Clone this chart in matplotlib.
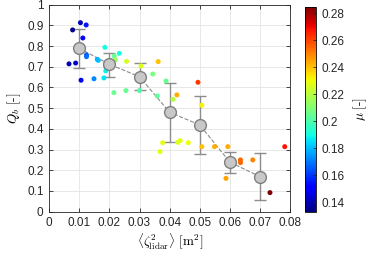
import numpy as np
import matplotlib
matplotlib.use('Agg')
import matplotlib.pyplot as plt

plt.rcParams['font.family'] = ['Liberation Sans', 'DejaVu Sans']
plt.rcParams['mathtext.fontset'] = 'cm'

# individual samples: <zeta^2_lidar>, Q_b, mu
zeta = [0.0104, 0.0123, 0.0078, 0.0112, 0.0124, 0.0124, 0.0066, 0.0088, 0.0106,
        0.0160, 0.0163, 0.0149, 0.0185, 0.0182, 0.0188, 0.0188, 0.0233, 0.0216,
        0.0220, 0.0204, 0.0215, 0.0255,
        0.0257, 0.0305, 0.0300, 0.0344, 0.0362, 0.0388, 0.0359,
        0.0411, 0.0424, 0.0368, 0.0377, 0.0427, 0.0435, 0.0462,
        0.0494, 0.0507, 0.0507, 0.0549,
        0.0593, 0.0635, 0.0635, 0.0676, 0.0587, 0.0615,
        0.0782, 0.0733]
qb = [0.913, 0.902, 0.878, 0.839, 0.757, 0.749, 0.714, 0.718, 0.635,
      0.736, 0.731, 0.642, 0.794, 0.646, 0.700, 0.680, 0.765, 0.752,
      0.733, 0.730, 0.575, 0.585,
      0.726, 0.704, 0.585, 0.665, 0.725, 0.631, 0.559,
      0.543, 0.564, 0.290, 0.333, 0.335, 0.343, 0.333,
      0.625, 0.514, 0.314, 0.314,
      0.314, 0.250, 0.237, 0.250, 0.161, 0.242,
      0.314, 0.092]
mu = [0.140, 0.155, 0.135, 0.152, 0.165, 0.168, 0.140, 0.143, 0.148,
      0.178, 0.180, 0.172, 0.190, 0.186, 0.192, 0.188, 0.190, 0.205,
      0.215, 0.190, 0.205, 0.205,
      0.225, 0.227, 0.200, 0.208, 0.240, 0.205, 0.203,
      0.220, 0.243, 0.228, 0.228, 0.226, 0.228, 0.230,
      0.262, 0.232, 0.240, 0.243,
      0.243, 0.255, 0.255, 0.250, 0.245, 0.235,
      0.268, 0.285]

# binned means with error bars
bin_x = [0.01, 0.02, 0.03, 0.04, 0.05, 0.06, 0.07]
bin_mean = [0.789, 0.712, 0.652, 0.480, 0.419, 0.239, 0.169]
bin_top = [0.883, 0.768, 0.720, 0.623, 0.560, 0.290, 0.282]
bin_bot = [0.693, 0.652, 0.588, 0.338, 0.279, 0.188, 0.057]

mu_min, mu_max = 0.1327, 0.2850

fig = plt.figure(figsize=(3.72, 2.6), dpi=100)
ax = fig.add_axes([0.132, 0.186, 0.648, 0.796])
cax = fig.add_axes([0.820, 0.185, 0.030, 0.789])

sc = ax.scatter(zeta, qb, c=mu, cmap='jet', vmin=mu_min, vmax=mu_max,
                s=13, linewidths=0, zorder=3)

bin_mean = np.array(bin_mean)
yerr = [bin_mean - np.array(bin_bot), np.array(bin_top) - bin_mean]
ax.errorbar(bin_x, bin_mean, yerr=yerr, fmt='none', ecolor='#8c8c8c',
            elinewidth=1.0, capsize=4, capthick=1.0, zorder=2)
ax.plot(bin_x, bin_mean, '--', color='#8c8c8c', lw=0.8, zorder=2)
ax.plot(bin_x, bin_mean, 'o', ms=8.5, mfc='#c8c8c8', mec='#7f7f7f', mew=1.0,
        linestyle='none', zorder=4)

ax.set_xlim(0, 0.08)
ax.set_ylim(0, 1)
ax.set_xticks(np.arange(0, 0.081, 0.01))
ax.set_xticklabels(['0', '0.01', '0.02', '0.03', '0.04', '0.05', '0.06', '0.07', '0.08'])
ax.set_yticks(np.arange(0, 1.01, 0.1))
ax.set_yticklabels(['0', '0.1', '0.2', '0.3', '0.4', '0.5', '0.6', '0.7', '0.8', '0.9', '1'])
ax.grid(True, color='#e4e4e4', lw=0.6)
ax.set_axisbelow(True)
ax.tick_params(direction='in', length=3, width=0.6, labelsize=8.5,
               top=True, right=True, colors='#262626', pad=4)
for s in ax.spines.values():
    s.set_color('#262626')
    s.set_linewidth(0.6)

ax.set_xlabel(r'$\langle\zeta^2_{\mathrm{lidar}}\rangle\ [\mathrm{m}^2]$', fontsize=9.5, labelpad=2)
ax.set_ylabel(r'$Q_b\ [\text{-}]$', fontsize=9.5, labelpad=3)

cb = fig.colorbar(sc, cax=cax)
cb.set_ticks([0.14, 0.16, 0.18, 0.2, 0.22, 0.24, 0.26, 0.28])
cb.set_ticklabels(['0.14', '0.16', '0.18', '0.2', '0.22', '0.24', '0.26', '0.28'])
cb.ax.tick_params(direction='in', length=2, width=0.6, labelsize=8.5, colors='#262626')
cb.outline.set_linewidth(0.6)
cb.set_label(r'$\mu\ [\text{-}]$', fontsize=9.5, labelpad=5)

fig.savefig('out.png', dpi=100)
